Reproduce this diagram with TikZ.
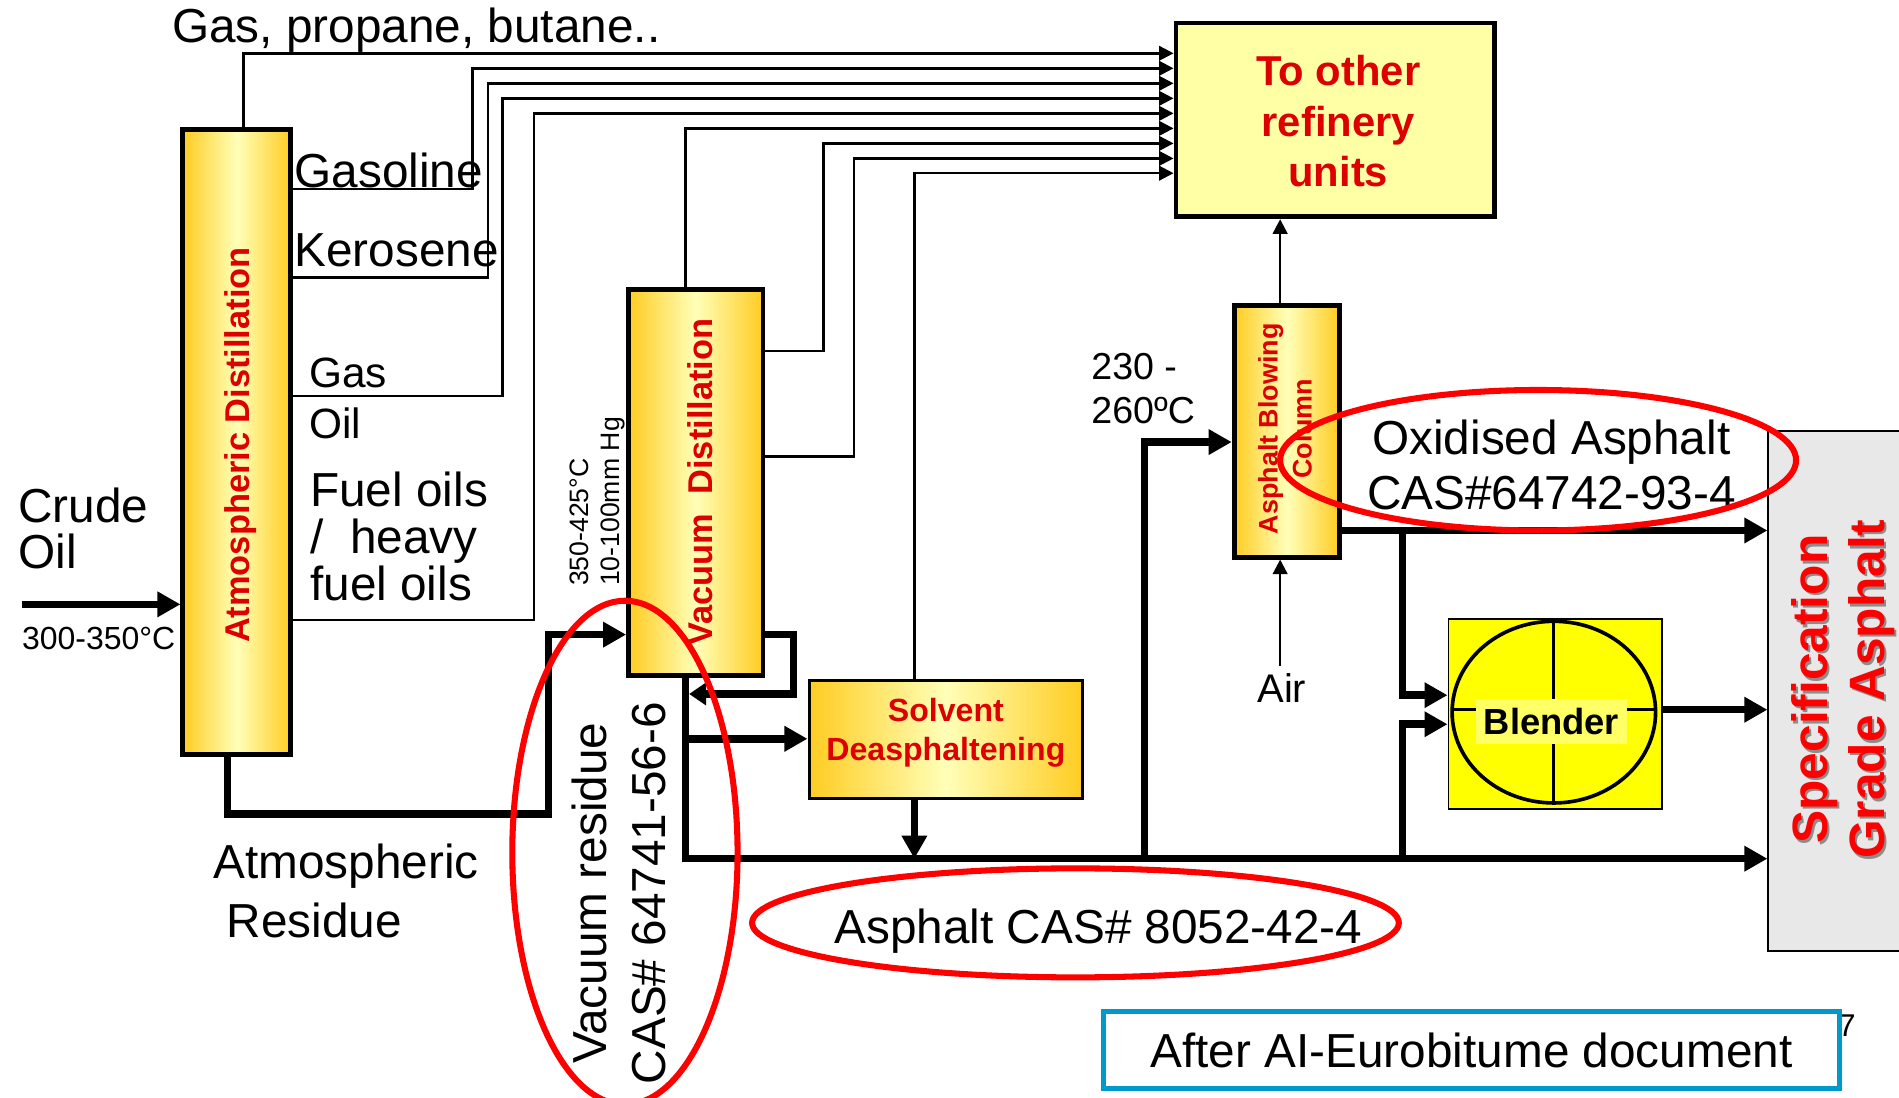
\documentclass[tikz,border=0pt]{standalone}
\usepackage{fontspec}
\setmainfont{Liberation Sans}
\usetikzlibrary{arrows.meta}
\newcommand{\fsz}[2]{\fontsize{#1}{#2}\selectfont}
\definecolor{gold}{HTML}{FFCC22}
\definecolor{paleyellow}{HTML}{FFFFB8}
\definecolor{labelred}{HTML}{DD0000}
\definecolor{ringred}{HTML}{FF0000}
\definecolor{frameblue}{HTML}{0099CC}
\definecolor{blendyellow}{HTML}{FFFF00}
\definecolor{blendpale}{HTML}{FFFF66}

\begin{document}
\begin{tikzpicture}[
    x=1pt, y=-1pt,
    column/.style={draw=black, line width=4pt, left color=gold, right color=gold, middle color=paleyellow, inner sep=0pt},
    unitbox/.style={draw=black, line width=2.5pt, left color=gold, right color=gold, middle color=paleyellow, inner sep=0pt},
    redlabel/.style={text=labelred, font=\bfseries\fsz{28.4}{32}, align=center, inner sep=0pt},
    plainlabel/.style={font=\fsz{39.4}{44}, inner sep=0pt, anchor=west, align=left},
    sidelabel/.style={font=\fsz{39.4}{48}, inner sep=0pt, rotate=90, align=center},
    % thin and thick flows
    feed/.style={line width=2pt, -{Triangle[length=12pt,width=12pt]}},
    flow/.style={line width=6.2pt, -{Triangle[length=19pt,width=20pt]}},
    ring/.style={draw=ringred, line width=5pt},
]
\useasboundingbox (0,0) rectangle (1568,906);

% ── grey product box (behind everything) ──
\node[draw=black, line width=1.3pt, fill=black!9, minimum width=140pt, minimum height=429pt, inner sep=0pt] (spec) at (1530,570.5) {};
\node[text=black!45, font=\bfseries\fsz{41}{47}, rotate=90, align=center, inner sep=0pt] (specshadow) at (1523.5,571) {Specification\\Grade Asphalt};
\node[text=ringred, font=\bfseries\fsz{41}{47}, rotate=90, align=center, inner sep=0pt] (speclabel) at (1521.5,569) {Specification\\Grade Asphalt};

% ── process units ──
\node[column, minimum width=89pt, minimum height=516pt] (atm) at (195.5,365) {};
\node[redlabel, rotate=90] (atmlabel) at (199,367.5) {Atmospheric Distillation};

\node[column, minimum width=111pt, minimum height=319pt] (vac) at (574.5,398.5) {};
\node[redlabel, rotate=90] (vaclabel) at (578,398) {Vacuum\ \ Distillation};

\node[unitbox, minimum width=226pt, minimum height=97pt] (solvent) at (781,610.5) {};
\node[redlabel, font=\bfseries\fsz{26.5}{32}] (solventlabel) at (781,605) {Solvent\\Deasphaltening};

\node[column, minimum width=87pt, minimum height=208pt] (blow) at (1062.5,356) {};
\node[redlabel, rotate=90, font=\bfseries\fsz{22.2}{28}] (blowlabel) at (1061,354) {Asphalt Blowing\\Column};

\node[draw=black, line width=4pt, fill=paleyellow!90!yellow, minimum width=263pt, minimum height=160pt, inner sep=0pt] (other) at (1102.5,99) {};
\node[redlabel, font=\bfseries\fsz{34.5}{42}] (otherlabel) at (1105,100) {To other\\refinery\\units};

\node[draw=black, line width=1.6pt, fill=blendyellow, minimum width=176pt, minimum height=157pt, inner sep=0pt] (blender) at (1284,589.5) {};
\draw[black, line width=3pt] (1283,588) ellipse (84 and 75);
\draw[black, line width=2.5pt] (1283,513) -- (1283,663) (1199,586) -- (1367,586);
\node[fill=blendpale, font=\bfseries\fsz{30}{36}, minimum width=124pt, minimum height=37pt, inner sep=0pt] (blenderlabel) at (1281,595.5) {Blender};

% ── ends of the nine feeds on the receiving box ──
\foreach \i/\yy in {1/44,2/56.4,3/68.8,4/81.2,5/93.6,6/106,7/118.4,8/130.8,9/143}
    \coordinate (in\i) at (other.west |- 0,\yy);

% ── thin feeds ──
\draw[feed] (atm.north -| 201,0) |- (in1);
\draw[feed] (atm.east |- 0,156) -- (390,156) |- (in2);
\draw[feed] (atm.east |- 0,229) -- (403,229) |- (in3);
\draw[feed] (atm.east |- 0,327) -- (415,327) |- (in4);
\draw[feed] (atm.east |- 0,512) -- (441,512) |- (in5);
\draw[feed] (vac.north -| 566,0) |- (in6);
\draw[feed] (vac.east |- 0,290) -- (680,290) |- (in7);
\draw[feed] (vac.east |- 0,377) -- (705,377) |- (in8);
\draw[feed] (solvent.north -| 755,0) |- (in9);
\draw[feed] (blow.north -| 1057,0) -- (other.south -| 1057,0);
\coordinate (airstart) at (1057,550);
\draw[feed] (airstart) -- (blow.south -| airstart);

% ── thick flows ──
\coordinate (crudestart) at (18,499);
\coordinate (mainturn) at (566,709);
\coordinate (bitumen) at (755,709);
\coordinate (blowfeed) at (945,709);
\coordinate (blendfeed) at (1158,709);
\coordinate (blowout) at (1158,438);
\draw[flow] (crudestart) -- (atm.west |- crudestart);
\draw[flow] (atm.south -| 188,0) |- (453,672) |- (vac.west |- 0,524);
\draw[flow, -{Triangle[length=14pt,width=18pt]}] (vac.east |- 0,524) -| (655,573) -- (569,573);
\draw[flow] (vac.south -| mainturn) |- (spec.west |- mainturn);
\draw[flow] (566,610) -- (solvent.west |- 0,610);
\draw[flow] (solvent.south -| bitumen) -- (bitumen);
\draw[flow] (blowfeed) |- (blow.west |- 0,365);
\draw[flow] (blow.east |- blowout) -- (spec.west |- blowout);
\draw[flow] (blowout) |- (blender.west |- 0,574);
\draw[flow] (blendfeed) |- (blender.west |- 0,598);
\draw[flow] (blender.east |- 0,586) -- (spec.west |- 0,586);

% ── stream labels ──
\node[plainlabel] (gaslabel) at (142,24.5) {Gas, propane, butane..};
\node[plainlabel] (gasoline) at (243,141) {Gasoline};
\node[plainlabel] (kerosene) at (243,207) {Kerosene};
\node[plainlabel, font=\fsz{35}{42}] (gasoil) at (255,329) {Gas\\Oil};
\node[plainlabel, font=\fsz{39.4}{38.5}] (fueloil) at (256,443) {Fuel oils\\/\ \ heavy\\fuel oils};
\node[plainlabel, font=\fsz{39.4}{38}] (crude) at (15,436.5) {Crude\\Oil};
\node[plainlabel, font=\fsz{26.4}{30}] (crudetemp) at (18,527) {300-350°C};
\node[plainlabel] (atmres) at (176,715) {Atmospheric};
\node[plainlabel] (atmres2) at (187,760) {Residue};
\node[font=\fsz{22}{26}, rotate=90, anchor=west, align=left, inner sep=0pt] (vaccond) at (493.5,484) {350-425°C\\10-100mm Hg};
\node[sidelabel] (vacres) at (511,737.5) {Vacuum residue\\CAS\# 64741-56-6};
\node[plainlabel, font=\fsz{31}{36}] (blowtemp) at (901,321) {230 -\\260ºC};
\node[plainlabel, font=\fsz{33}{40}] (air) at (1038,568) {Air};
\node[font=\fsz{39.4}{46}, align=center, inner sep=0pt] (oxid) at (1281,384) {Oxidised Asphalt\\CAS\#64742-93-4};
\node[font=\fsz{39.4}{44}, inner sep=0pt] (asphalt) at (907,769) {Asphalt CAS\# 8052-42-4};

% ── source note ──
\node[font=\fsz{26}{30}, inner sep=0pt] (pagenum) at (1525,847) {7};
\node[draw=frameblue, line width=4pt, fill=white, minimum width=608pt, minimum height=64pt, inner sep=0pt, font=\fsz{39.4}{44}] (source) at (1215,867) {After AI-Eurobitume document};

% ── red rings on top ──
\draw[ring] (516,704) ellipse (93 and 208);
\draw[ring] (888,762) ellipse (267 and 45);
\draw[ring] (1270,380) ellipse (213 and 58);
\end{tikzpicture}
\end{document}
